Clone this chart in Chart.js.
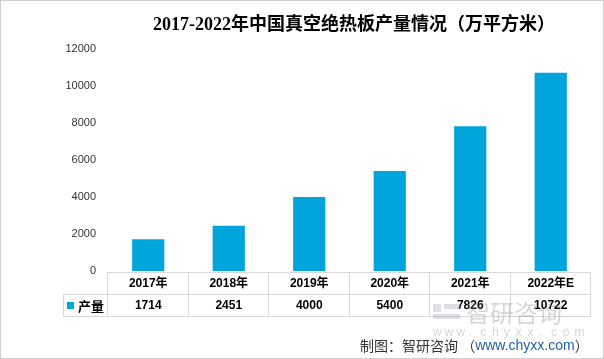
<!DOCTYPE html>
<html>
<head>
<meta charset="utf-8">
<script src="https://cdn.jsdelivr.net/npm/chart.js@4.4.0/dist/chart.umd.min.js"></script>
<style>
  html, body { margin: 0; padding: 0; background: #fff; }
  #wrap { width: 604px; height: 359px; position: relative; }
</style>
</head>
<body>
<div id="wrap"><canvas id="chart" width="604" height="359"></canvas></div>
<script>
const years = ['2017年', '2018年', '2019年', '2020年', '2021年', '2022年E'];
const output = [1714, 2451, 4000, 5400, 7826, 10722];
const yTicks = [0, 2000, 4000, 6000, 8000, 10000, 12000];
const seriesName = '产量';
const titleText = '2017-2022年中国真空绝热板产量情况（万平方米）';
const barColor = '#00A5DC';

// draws title, data table under the bars, watermark and footer
const extras = {
    id: 'extras',
    afterDraw(chart) {
        const ctx = chart.ctx;
        const area = chart.chartArea;
        const xs = chart.scales.x;
        const colW = (area.right - area.left) / years.length;
        const top = area.bottom + 1;
        const rowH = 22;
        const left = area.left;
        const headLeft = 63;

        ctx.save();
        // title
        ctx.fillStyle = '#000';
        ctx.font = 'bold 18px "Liberation Serif", "Noto Sans CJK SC", serif';
        ctx.textAlign = 'center';
        ctx.textBaseline = 'middle';
        ctx.fillText(titleText, 354, 25);

        // table lines
        ctx.strokeStyle = '#d9d9d9';
        ctx.lineWidth = 1;
        ctx.beginPath();
        ctx.moveTo(left, top + 0.5); ctx.lineTo(area.right, top + 0.5);
        ctx.moveTo(headLeft, top + rowH + 0.5); ctx.lineTo(area.right, top + rowH + 0.5);
        ctx.moveTo(headLeft, top + rowH * 2 + 0.5); ctx.lineTo(area.right, top + rowH * 2 + 0.5);
        ctx.moveTo(headLeft + 0.5, top + rowH); ctx.lineTo(headLeft + 0.5, top + rowH * 2);
        for (let i = 0; i <= years.length; i++) {
            const x = Math.round(left + colW * i) - 0.5;
            ctx.moveTo(x, top); ctx.lineTo(x, top + rowH * 2);
        }
        ctx.stroke();

        // table text
        ctx.fillStyle = '#000';
        ctx.font = 'bold 12px "Liberation Sans", "Noto Sans CJK SC", sans-serif';
        years.forEach((y, i) => {
            const cx = xs.getPixelForValue(i);
            ctx.fillText(y, cx, top + rowH / 2 + 1);
            ctx.fillText(String(output[i]), cx, top + rowH * 1.5 + 1);
        });
        ctx.fillStyle = barColor;
        ctx.fillRect(67, top + rowH + 8, 7, 7);
        ctx.fillStyle = '#000';
        ctx.font = 'bold 13px "Noto Sans CJK SC", sans-serif';
        ctx.textAlign = 'left';
        ctx.fillText(seriesName, 78, top + rowH * 1.5 + 1);

        // watermark
        ctx.globalAlpha = 0.35;
        ctx.fillStyle = '#9aa5b5';
        ctx.fillRect(433, 304, 8, 8);
        ctx.fillRect(444, 304, 16, 5);
        ctx.fillRect(433, 314, 27, 5);
        ctx.fillStyle = '#8a8a8a';
        ctx.font = '24px "Noto Sans CJK SC", sans-serif';
        ctx.fillText('智研咨询', 466, 313);
        ctx.font = '12px "Liberation Sans", sans-serif';
        const wm = 'www.chyxx.com';
        for (let i = 0; i < wm.length; i++) {
            ctx.fillText(wm[i], 433 + i * 11.8, 333);
        }
        ctx.globalAlpha = 1;

        // footer
        ctx.font = '14px "Noto Sans CJK SC", sans-serif';
        ctx.fillStyle = '#333';
        const p1 = '制图：智研咨询 （';
        ctx.fillText(p1, 360, 346);
        let x = 360 + ctx.measureText(p1).width;
        ctx.fillStyle = '#1f5f9f';
        ctx.font = '14px "Liberation Sans", sans-serif';
        ctx.fillText('www.chyxx.com', x, 346);
        x += ctx.measureText('www.chyxx.com').width;
        ctx.fillStyle = '#333';
        ctx.font = '14px "Noto Sans CJK SC", sans-serif';
        ctx.fillText('）', x, 346);

        // outer frame
        ctx.strokeStyle = '#d0d0d0';
        ctx.strokeRect(0.5, 0.5, chart.width - 1, chart.height - 1);
        ctx.restore();
    }
};

new Chart(document.getElementById('chart'), {
    type: 'bar',
    data: {
        labels: years,
        datasets: [{
            label: seriesName,
            data: output,
            backgroundColor: barColor,
            barPercentage: 0.4,
            categoryPercentage: 1
        }]
    },
    options: {
        responsive: false,
        animation: false,
        layout: { padding: { left: 0, right: 13, top: 49, bottom: 88 } },
        plugins: { legend: { display: false }, tooltip: { enabled: false } },
        scales: {
            x: { display: false },
            y: {
                min: 0,
                max: 12000,
                afterBuildTicks(scale) { scale.ticks = yTicks.map(v => ({ value: v })); },
                afterFit(scale) { scale.width = 108; },
                border: { display: false },
                grid: { display: false, drawTicks: false },
                ticks: {
                    padding: 12,
                    color: '#333',
                    font: { family: '"Liberation Sans", sans-serif', size: 11 },
                    callback: v => String(v)
                }
            }
        }
    },
    plugins: [extras]
});
</script>
</body>
</html>
